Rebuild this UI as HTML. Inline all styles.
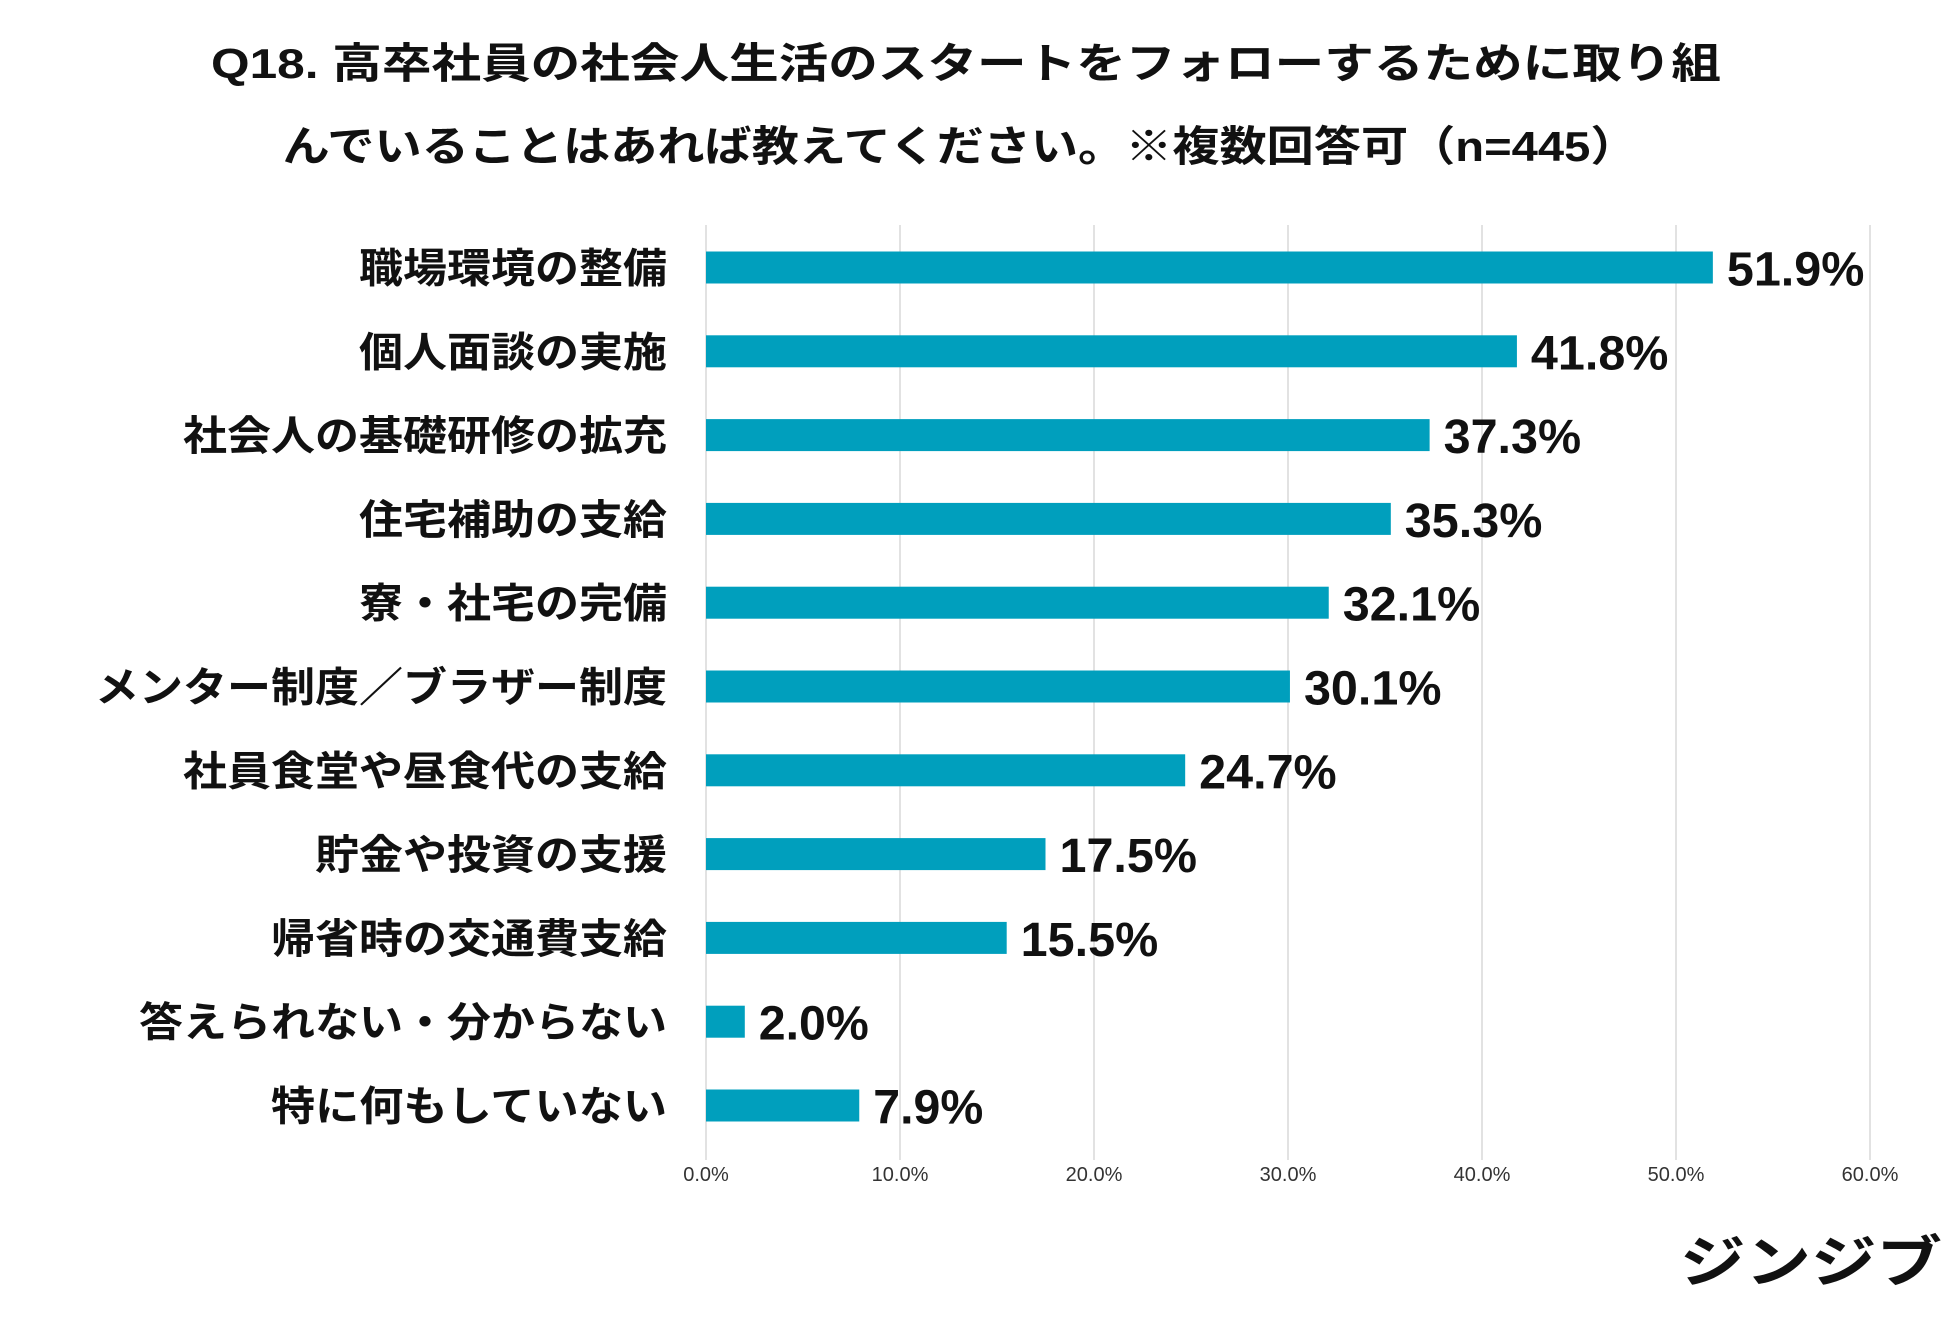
<!DOCTYPE html>
<html><head><meta charset="utf-8"><style>
html,body{margin:0;padding:0;background:#fff;}
svg text{font-family:"Liberation Sans","Noto Sans CJK JP",sans-serif;}
</style></head><body>
<svg id="chart" width="1950" height="1317" viewBox="0 0 1950 1317" xmlns="http://www.w3.org/2000/svg">
<text x="966" y="78" text-anchor="middle" font-size="42" font-weight="bold" fill="#111" textLength="1510" lengthAdjust="spacingAndGlyphs">Q18. 高卒社員の社会人生活のスタートをフォローするために取り組</text>
<text x="960" y="161" text-anchor="middle" font-size="42" font-weight="bold" fill="#111" textLength="1355" lengthAdjust="spacingAndGlyphs">んでいることはあれば教えてください。※複数回答可（n=445）</text>
<g id="grid"></g><g id="bars"></g>
<text x="1942" y="1282" text-anchor="end" font-size="56" font-weight="bold" fill="#111" textLength="262" lengthAdjust="spacingAndGlyphs">ジンジブ</text>
</svg>
<script>
const categories=["職場環境の整備","個人面談の実施","社会人の基礎研修の拡充","住宅補助の支給","寮・社宅の完備","メンター制度／ブラザー制度","社員食堂や昼食代の支給","貯金や投資の支援","帰省時の交通費支給","答えられない・分からない","特に何もしていない"];
const values=[51.9,41.8,37.3,35.3,32.1,30.1,24.7,17.5,15.5,2.0,7.9];
const ticks=[0,10,20,30,40,50,60];
const NS="http://www.w3.org/2000/svg";
const x0=706,x1=1870,xmax=60;
const xs=v=>x0+(x1-x0)*v/xmax;
const yTop=225,step=83.8,firstC=267.5;
const yc=i=>firstC+i*step;
const grid=document.getElementById('grid'),bars=document.getElementById('bars');
function mk(tag,attrs,parent){const e=document.createElementNS(NS,tag);for(const k in attrs)e.setAttribute(k,attrs[k]);parent.appendChild(e);return e;}
ticks.forEach(t=>{
  const l=mk('line',{x1:xs(t),x2:xs(t),y1:yTop,y2:1160,stroke:'#d9d9d9','stroke-width':1.5},grid);
  
  
  const tx=mk('text',{x:xs(t),y:1181,'text-anchor':'middle','font-size':20,fill:'#333'},grid);
  tx.textContent=t.toFixed(1)+'%';
  
  
});
categories.forEach((c,i)=>{
  const y=yc(i);
  const lb=mk('text',{x:667,y:y+15,'text-anchor':'end','font-size':41,'font-weight':'bold',fill:'#111',textLength:c.length*44,lengthAdjust:'spacingAndGlyphs'},bars);
  lb.textContent=c;
  
  
  const r=mk('rect',{x:x0,y:y-16,width:xs(values[i])-x0,height:32,fill:'#009fbd'},bars);
  
  
  const s=values[i].toFixed(1)+'%';
  const v=mk('text',{x:xs(values[i])+14,y:y+18,'font-size':48,'font-weight':'bold',fill:'#111',textLength:s.length*27.5,lengthAdjust:'spacingAndGlyphs'},bars);
  v.textContent=s;
  
  
});
</script>
</body></html>
